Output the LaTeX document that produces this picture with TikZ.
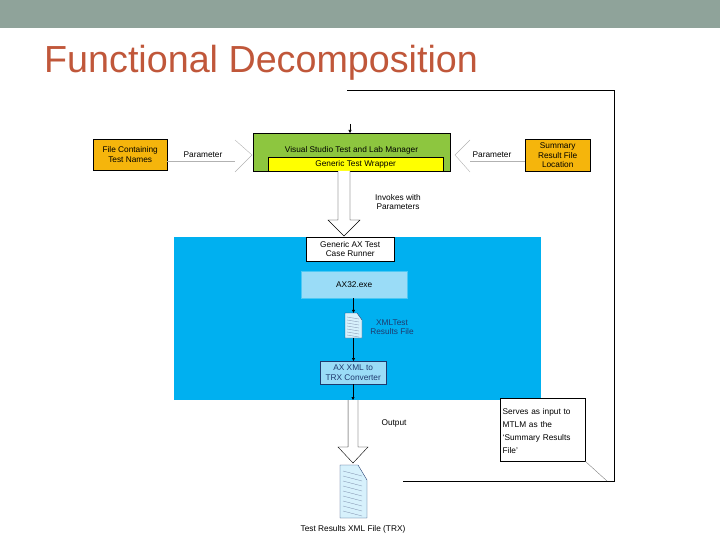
\documentclass[tikz,border=0pt]{standalone}
\usepackage{fontspec}
\setmainfont{Liberation Sans}
\usetikzlibrary{arrows.meta}
\definecolor{bar}{HTML}{8FA39A}
\definecolor{ttl}{HTML}{C0573A}
\definecolor{grn}{HTML}{8DC63F}
\definecolor{yel}{HTML}{FFFF00}
\definecolor{org}{HTML}{F5B50C}
\definecolor{blu}{HTML}{00B0F0}
\definecolor{lblu}{HTML}{9ADCF7}
\definecolor{dblu}{HTML}{1F3A6E}
\begin{document}
\begin{tikzpicture}[x=1pt,y=-1pt,
  lbl/.style={font=\fontsize{8.3}{9.6}\selectfont,align=center,inner sep=0pt},
  box/.style={draw=black,line width=0.4pt,font=\fontsize{8.3}{9.6}\selectfont,align=center,inner sep=0pt},
  conn/.style={line width=0.6pt,-{Triangle[length=3pt,width=3pt]}},
  hol/.style={draw=black,fill=white,line width=0.4pt},
  gl/.style={draw=gray!60,line width=0.4pt}]
\useasboundingbox (0,0) rectangle (720,540);
\fill[bar] (0,0) rectangle (720,28);
\node[anchor=west,text=ttl,font=\fontsize{37.7}{42}\selectfont,inner sep=0pt] (title) at (44,63) {Functional Decomposition};
% blue region
\node[fill=blu,minimum width=367pt,minimum height=163pt,inner sep=0pt,anchor=north west] (blue) at (174,237) {};
% green
\node[box,fill=grn,minimum width=197pt,minimum height=38pt,anchor=north west] (vs) at (253,133) {};
\node[lbl] (vst) at (351.5,150) {Visual Studio Test and Lab Manager};
\node[box,fill=yel,minimum width=175pt,minimum height=14pt,anchor=north west] (gtw) at (268,157) {Generic Test Wrapper};
% orange
\node[box,fill=org,minimum width=74pt,minimum height=31pt,anchor=north west] (fc) at (93,139) {File Containing\\Test Names};
\node[box,fill=org,minimum width=65pt,minimum height=32pt,anchor=north west] (sr) at (525,139) {Summary\\Result File\\Location};
% parameter connectors
\coordinate (pl) at (235,161);
\coordinate (pr) at (470,161);
\draw[gl] (fc.east|-pl) -- (pl);
\draw[gl] (235,140) -- (252,155) -- (235,172);
\node[lbl] (p1) at (203,155) {Parameter};
\draw[gl] (sr.west|-pr) -- (pr);
\draw[gl] (470,140) -- (455,155) -- (470,172);
\node[lbl] (p2) at (492,155) {Parameter};
% invokes arrow
\draw[hol] (338,171) -- (338,220) -- (328,220) -- (344,236) -- (360,220) -- (350,220) -- (350,171);
\node[lbl] (inv) at (398,202) {Invokes with\\Parameters};
% runner
\node[box,fill=white,minimum width=88pt,minimum height=24pt,anchor=north west] (run) at (306,237) {Generic AX Test\\Case Runner};
\node[draw=blu!70!white,fill=lblu,minimum width=106pt,minimum height=27pt,inner sep=0pt,anchor=north west,font=\fontsize{8.3}{9.6}\selectfont] (ax) at (301,271) {AX32.exe};
% doc icon
\node[minimum width=17pt,minimum height=25pt,inner sep=0pt] (doc1) at (353.5,325.5) {};
\draw[fill=lblu!40!white,draw=dblu,line width=0.4pt] (345,313) -- (357,313) -- (362,320) -- (362,338) -- (345,338) -- cycle;
\foreach \y in {317,320,...,335} \draw[dblu!60,line width=0.3pt] (347,\y) -- (359,\y+2);
\node[lbl,text=dblu] (xmlt) at (392,327) {XMLTest\\Results File};
\node[box,fill=lblu,minimum width=66pt,minimum height=23pt,anchor=north west,text=dblu,draw=dblu] (conv) at (320,361) {AX XML to\\TRX Converter};
\draw[conn] (ax.south-|doc1) -- (doc1.north);
\draw[conn] (doc1.south) -- (conv.north-|doc1);
\coordinate (c3) at (353,400);
\draw[conn] (conv.south-|c3) -- (c3);
% output arrow
\draw[hol] (348,400) -- (348,447) -- (338,447) -- (353,463) -- (368,447) -- (358,447) -- (358,400);
\draw[gray!50,line width=0.6pt] (348.5,400) -- (348.5,447);
\node[lbl] (out) at (394,423) {Output};
% bottom doc
\node[minimum width=27pt,minimum height=53pt,inner sep=0pt] (doc2) at (353.5,491.5) {};
\draw[fill=lblu!40!white,draw=dblu,line width=0.4pt] (340,465) -- (358,465) -- (367,480) -- (367,518) -- (340,518) -- cycle;
\foreach \y in {471,476,...,511} \draw[dblu!60,line width=0.3pt] (343,\y) -- (362,\y+5);
\node[lbl] (trx) at (353,529) {Test Results XML File (TRX)};
% feedback loop
\coordinate (f0) at (403,481);
\coordinate (f1) at (614,481);
\coordinate (f2) at (614,90);
\coordinate (f3) at (347,90);
\draw[line width=0.7pt] (f0) -- (f1) -- (f2) -- (f3);
\draw[-{Triangle[length=3pt,width=3pt]},line width=0.6pt] (350,124) -- (vs.north-|350,0);
% callout
\node[box,fill=white,minimum width=85pt,minimum height=63pt,anchor=north west,align=left,text width=80pt,font=\fontsize{8.3}{13}\selectfont] (call) at (500,398) {\strut Serves as input to\\MTLM as the\\`Summary Results\\File'};
\draw[gray,line width=0.4pt] (call.south east) -- (607,481);
\end{tikzpicture}
\end{document}
